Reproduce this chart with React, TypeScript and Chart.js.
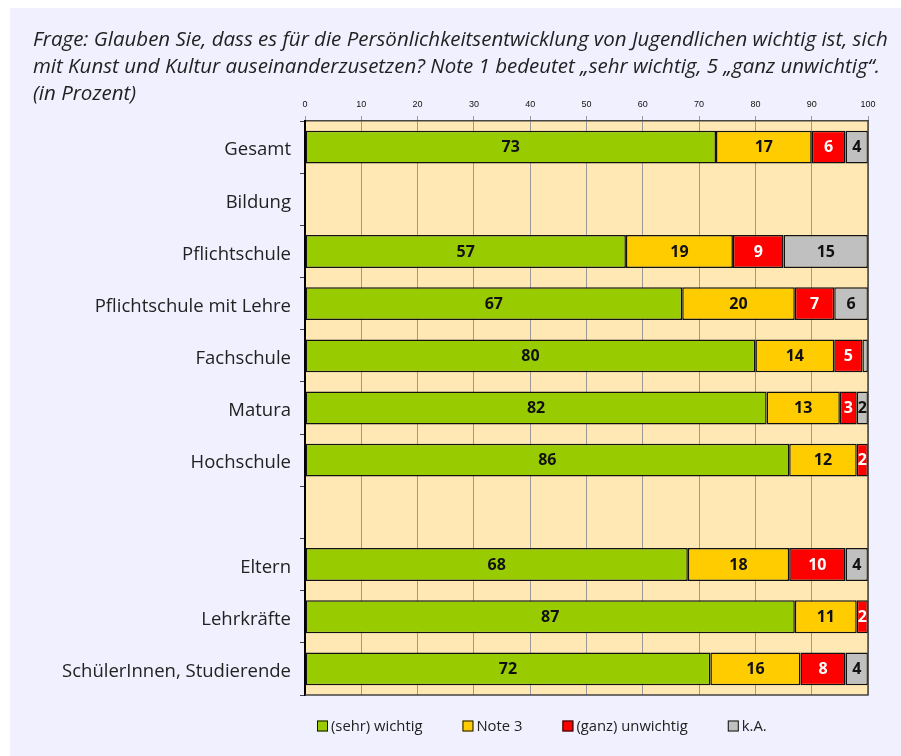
import React, { useEffect, useRef } from "react";
import { Chart, registerables } from "chart.js";

Chart.register(...registerables);

const categories = [
  "Gesamt",
  "Bildung",
  "Pflichtschule",
  "Pflichtschule mit Lehre",
  "Fachschule",
  "Matura",
  "Hochschule",
  "",
  "Eltern",
  "Lehrkräfte",
  "SchülerInnen, Studierende",
];

const sehrWichtig = [73, null, 57, 67, 80, 82, 86, null, 68, 87, 72];
const note3 = [17, null, 19, 20, 14, 13, 12, null, 18, 11, 16];
const unwichtig = [6, null, 9, 7, 5, 3, 2, null, 10, 2, 8];
const keineAngabe = [4, null, 15, 6, 1, 2, 0, null, 4, 0, 4];

const seriesNames = ["(sehr) wichtig", "Note 3", "(ganz) unwichtig", "k.A."];
const seriesColors = ["#99CC00", "#FFCC00", "#FF0000", "#C0C0C0"];
const labelColors = ["#111111", "#111111", "#FFFFFF", "#111111"];

const xTicks = [0, 10, 20, 30, 40, 50, 60, 70, 80, 90, 100];

const titleLines = [
  "Frage: Glauben Sie, dass es für die Persönlichkeitsentwicklung von Jugendlichen wichtig ist, sich",
  "mit Kunst und Kultur auseinanderzusetzen? Note 1 bedeutet „sehr wichtig, 5 „ganz unwichtig“.",
  "(in Prozent)",
];

const FONT = "'Open Sans', 'Noto Sans', sans-serif";

const bgPlugin = {
  id: "bgPlugin",
  beforeDraw(chart: any) {
    const { ctx, chartArea, width, height } = chart;
    ctx.save();
    ctx.fillStyle = "#F0F0FF";
    ctx.fillRect(0, 0, width, height);
    ctx.fillStyle = "#FFE8B4";
    ctx.fillRect(chartArea.left, chartArea.top, chartArea.right - chartArea.left, chartArea.bottom - chartArea.top);
    // title
    ctx.fillStyle = "#222222";
    ctx.font = `italic 20.5px ${FONT}`;
    ctx.textAlign = "left";
    ctx.textBaseline = "middle";
    titleLines.forEach((line, i) => {
      ctx.fillText(line, 23, 32 + i * 27);
    });
    ctx.restore();
  },
};

const labelsPlugin = {
  id: "labelsPlugin",
  afterDatasetsDraw(chart: any) {
    const { ctx, chartArea } = chart;
    ctx.save();
    // right & bottom border
    ctx.strokeStyle = "#444444";
    ctx.lineWidth = 1.5;
    ctx.beginPath();
    ctx.moveTo(chartArea.right, chartArea.top);
    ctx.lineTo(chartArea.right, chartArea.bottom);
    ctx.lineTo(chartArea.left, chartArea.bottom);
    ctx.stroke();

    ctx.font = `bold 16px ${FONT}`;
    ctx.textAlign = "center";
    ctx.textBaseline = "middle";
    chart.data.datasets.forEach((ds: any, di: number) => {
      const meta = chart.getDatasetMeta(di);
      meta.data.forEach((el: any, i: number) => {
        const v = ds.data[i];
        if (v == null || v < 2) return;
        const p = el.getProps(["x", "y", "base"], true);
        ctx.fillStyle = labelColors[di];
        ctx.fillText(String(v), (p.x + p.base) / 2, p.y + 0.5);
      });
    });

    // legend
    ctx.font = `14.8px ${FONT}`;
    ctx.textAlign = "left";
    let x = chartArea.left + 12;
    const y = chartArea.bottom + 31;
    seriesNames.forEach((name, i) => {
      ctx.fillStyle = seriesColors[i];
      ctx.fillRect(x, y - 5.5, 11, 11);
      ctx.strokeStyle = "#111111";
      ctx.lineWidth = 1;
      ctx.strokeRect(x + 0.5, y - 5.5 + 0.5, 10, 10);
      ctx.fillStyle = "#222222";
      ctx.fillText(name, x + 14, y + 1);
      x += 14 + ctx.measureText(name).width + 40;
    });
    ctx.restore();
  },
};

export default function App() {
  const ref = useRef<HTMLCanvasElement | null>(null);
  useEffect(() => {
    document.body.style.margin = "0";
    document.body.style.overflow = "hidden";
    document.documentElement.style.overflow = "hidden";
    document.documentElement.style.background = "#F0F0FF";
    document.body.style.background = "#F0F0FF";
    const chart = new Chart(ref.current as HTMLCanvasElement, {
      type: "bar",
      data: {
        labels: categories,
        datasets: [sehrWichtig, note3, unwichtig, keineAngabe].map((d, i) => ({
          label: seriesNames[i],
          data: d,
          backgroundColor: seriesColors[i],
          borderColor: "#111111",
          borderWidth: 1.5,
          borderSkipped: false,
          barPercentage: 0.63,
          categoryPercentage: 1,
        })),
      },
      options: {
        indexAxis: "y",
        animation: false,
        responsive: false,
        maintainAspectRatio: false,
        layout: { padding: { left: 0, top: 0, right: 33, bottom: 61 } },
        plugins: {
          legend: { display: false },
          tooltip: { enabled: false },
          title: { display: false },
        },
        scales: {
          x: {
            position: "top",
            stacked: true,
            min: 0,
            max: 100,
            afterBuildTicks(scale: any) {
              scale.ticks = xTicks.map((v) => ({ value: v }));
            },
            afterFit(scale: any) {
              scale.height = 113;
            },
            ticks: {
              font: { family: "'Liberation Sans', Arial, sans-serif", size: 9 },
              color: "#111111",
              padding: 6,
              maxRotation: 0,
            },
            grid: {
              color: "#999999",
              lineWidth: 1,
              tickLength: 5,
              drawOnChartArea: true,
            },
            border: { display: true, color: "#444444", width: 1.5 },
          },
          y: {
            stacked: true,
            afterFit(scale: any) {
              scale.width = 295;
            },
            ticks: {
              font: { family: FONT, size: 18.5 },
              color: "#222222",
              padding: 9,
              labelOffset: 3,
            },
            grid: {
              display: true,
              drawOnChartArea: false,
              color: "#444444",
              tickLength: 5,
              offset: true,
            },
            border: { display: true, color: "#000000", width: 2 },
          },
        },
      },
      plugins: [bgPlugin, labelsPlugin],
    } as any);
    return () => chart.destroy();
  }, []);
  return (
    <div style={{ position: "fixed", left: 0, top: 0, width: 1000, height: 900, background: "#F0F0FF", overflow: "hidden" }}>
      <div style={{ position: "absolute", left: 0, top: 0, width: 1000, height: 8, background: "#FFFFFF" }} />
      <div style={{ position: "absolute", left: 0, top: 0, width: 10, height: 900, background: "#FFFFFF" }} />
      <div style={{ position: "absolute", left: 10, top: 8, width: 891, height: 748 }}>
        <canvas ref={ref} width={891} height={748} style={{ display: "block", width: 891, height: 748 }} />
      </div>
    </div>
  );
}
